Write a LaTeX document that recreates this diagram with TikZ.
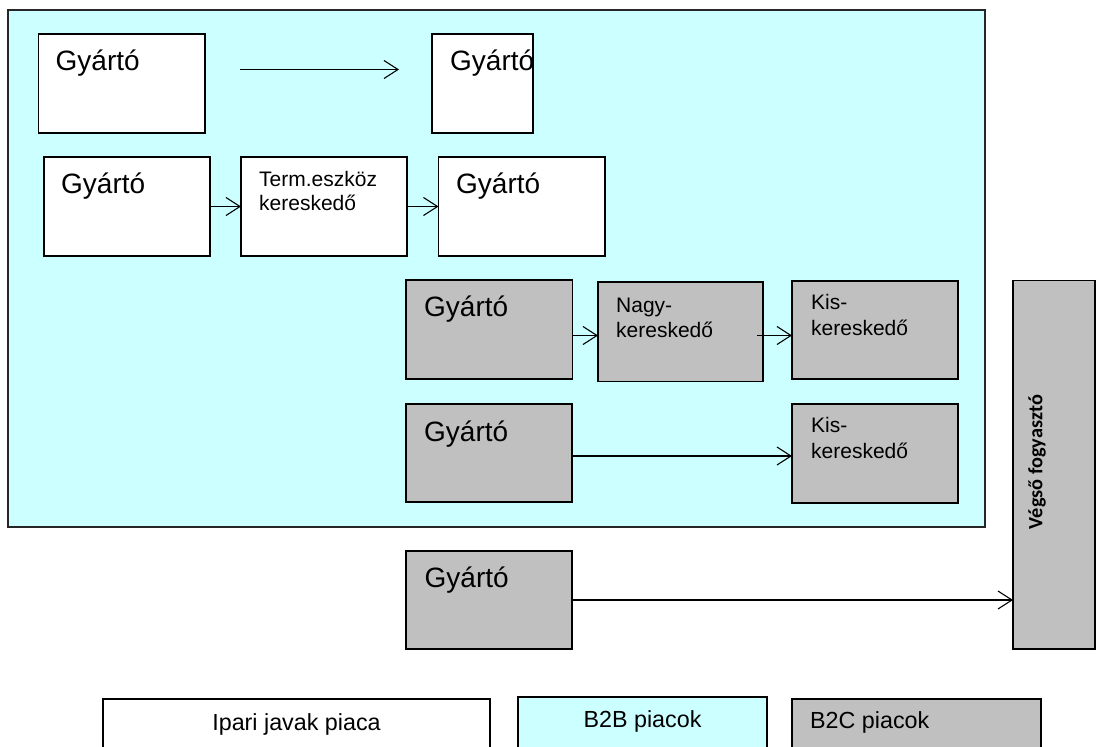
\documentclass[tikz,border=0pt]{standalone}
\usepackage{fontspec}
\setmainfont{Liberation Sans}
\newfontfamily\calib{Carlito}
\usetikzlibrary{arrows.meta,calc}
\definecolor{btbcyan}{HTML}{CCFFFF}
\definecolor{btcgray}{HTML}{C0C0C0}
\tikzset{
  x=1pt, y=-1pt,
  region/.style={draw=black!85, line width=1.4pt, fill=btbcyan, anchor=north west, inner sep=0pt, outer sep=0pt},
  wbox/.style={draw=black, line width=1.1pt, fill=white, anchor=north west, inner sep=0pt, outer sep=0pt},
  gbox/.style={draw=black, line width=1.1pt, fill=btcgray, anchor=north west, inner sep=0pt, outer sep=0pt},
  cbox/.style={draw=black, line width=1.1pt, fill=btbcyan, anchor=north west, inner sep=0pt, outer sep=0pt},
  bigtxt/.style={anchor=base west, inner sep=0pt, font=\fontsize{28}{32}\selectfont},
  smtxt/.style={anchor=base west, inner sep=0pt, font=\fontsize{21}{24}\selectfont},
  legtxt/.style={anchor=base, inner sep=0pt, font=\fontsize{23.3}{27}\selectfont},
  flow/.style={line width=1.1pt, -{Straight Barb[length=14pt,width=18pt,line width=1.1pt]}},
}
\begin{document}
\begin{tikzpicture}
\useasboundingbox (0,0) rectangle (1098,747);
\fill[white] (0,0) rectangle (1098,747);
% B2B region
\node[region, minimum width=977pt, minimum height=517pt] (reg) at (8,10) {};
% row A
\node[wbox, minimum width=166.5pt, minimum height=99pt] (a1) at (38.5,34) {};
\node[wbox, minimum width=101pt, minimum height=99pt] (a2) at (432,34) {};
% row B
\node[wbox, minimum width=166pt, minimum height=99pt] (b1) at (44,157) {};
\node[wbox, minimum width=166pt, minimum height=99pt] (b2) at (241,157) {};
\node[wbox, minimum width=166.5pt, minimum height=99pt] (b3) at (438.5,157) {};
% row C
\node[gbox, minimum width=166.5pt, minimum height=99pt] (c1) at (406,280) {};
\node[gbox, minimum width=165pt, minimum height=99.5pt] (c2) at (598,282) {};
\node[gbox, minimum width=166pt, minimum height=98pt] (c3) at (792,281) {};
% row D
\node[gbox, minimum width=166pt, minimum height=98pt] (d1) at (406,404) {};
\node[gbox, minimum width=166pt, minimum height=99pt] (d2) at (792,404) {};
% row E
\node[gbox, minimum width=166pt, minimum height=98pt] (e1) at (406,551) {};
% end consumer
\node[gbox, minimum width=82pt, minimum height=368.5pt] (veg) at (1013,280.5) {};
% legend
\node[wbox, minimum width=387pt, minimum height=70pt] (l1) at (103,699) {};
\node[cbox, minimum width=249pt, minimum height=70pt] (l2) at (518,697) {};
\node[gbox, minimum width=249pt, minimum height=70pt] (l3) at (792,699) {};

% texts
\node[bigtxt] (ta1) at (55.5,70) {Gyártó};
\node[bigtxt] (ta2) at (450,70) {Gyártó};
\node[bigtxt] (tb1) at (61,193) {Gyártó};
\node[smtxt] (tb2a) at (259,186.5) {Term.eszköz};
\node[smtxt] (tb2b) at (259,210.5) {kereskedő};
\node[bigtxt] (tb3) at (456,193) {Gyártó};
\node[bigtxt] (tc1) at (424,316.5) {Gyártó};
\node[smtxt] (tc2a) at (616,312) {Nagy-};
\node[smtxt] (tc2b) at (616,337) {kereskedő};
\node[smtxt] (tc3a) at (811,309.5) {Kis-};
\node[smtxt] (tc3b) at (811,335) {kereskedő};
\node[bigtxt] (td1) at (424,441) {Gyártó};
\node[smtxt] (td2a) at (811,432.5) {Kis-};
\node[smtxt] (td2b) at (811,458) {kereskedő};
\node[bigtxt] (te1) at (424.5,587.5) {Gyártó};
\node[rotate=90, inner sep=0pt, font=\calib\bfseries\fontsize{20.3}{23}\selectfont] (tveg) at (1037,462) {Végső fogyasztó};
\node[legtxt] (tl1) at (296.5,730) {Ipari javak piaca};
\node[legtxt] (tl2) at (642.5,727) {B2B piacok};
\node[smtxt, font=\fontsize{23.3}{27}\selectfont] (tl3) at (810,728) {B2C piacok};

% connectors
\coordinate (aS) at (240,69.5);
\coordinate (aE) at (399,69.5);
\draw[flow] (aS) -- (aE);
\draw[flow] (b1.east) -- (b2.west);
\draw[flow] (b2.east) -- (b3.west);
\draw[flow] (c1.east |- 0,335.5) -- (c2.west |- 0,335.5);
\coordinate (c2out) at (757,335.5);
\draw[flow] (c2out) -- (c3.west |- c2out);
\draw[flow] (d1.east |- 0,456) -- (d2.west |- 0,456);
\draw[flow] (e1.east) -- (veg.west |- e1.east);
\end{tikzpicture}
\end{document}
